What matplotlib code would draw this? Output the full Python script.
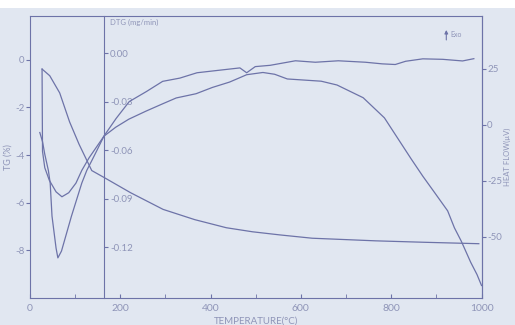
import matplotlib
matplotlib.use("Agg")
import matplotlib.pyplot as plt
from matplotlib.patches import Rectangle
from matplotlib.ticker import MultipleLocator

# -------------------------------------------------------
# Data
# -------------------------------------------------------

# TG curve, mass change (%)
temp_tg = [27, 44, 66, 88, 109, 137, 167, 223, 295, 365, 435, 493, 553, 625, 766, 873, 994]
tg      = [-0.39, -0.67, -1.39, -2.61, -3.55, -4.65, -4.97, -5.58, -6.28, -6.71, -7.05,
           -7.22, -7.35, -7.49, -7.60, -7.66, -7.72]

# DTG curve (mg/min)
temp_dtg = [22, 28, 33, 41, 45, 49, 58, 62, 70, 92, 115, 126, 137, 148, 164, 191, 220,
            258, 294, 332, 370, 414, 465, 480, 499, 532, 588, 632, 683, 743, 780, 809,
            832, 870, 914, 958, 983]
dtg      = [-0.049, -0.0546, -0.0624, -0.0725, -0.0803, -0.1006, -0.1204, -0.1264,
            -0.1222, -0.1007, -0.0802, -0.0724, -0.0664, -0.0603, -0.0512, -0.0403,
            -0.0299, -0.0237, -0.0174, -0.0154, -0.0121, -0.0107, -0.0091, -0.0121,
            -0.0083, -0.0075, -0.0047, -0.0056, -0.0047, -0.0056, -0.0066, -0.0070,
            -0.0050, -0.0035, -0.0038, -0.0048, -0.0034]

# Heat flow curve (uV)
temp_hf = [27, 27.5, 28, 33, 43, 58, 71, 86, 102, 115, 131, 164, 190, 219, 257, 293,
           324, 368, 404, 442, 464, 480, 516, 542, 570, 645, 680, 738, 785, 844, 870,
           896, 925, 940, 955, 976, 990, 1000]
hf      = [24.9, 5.4, -11.9, -19.2, -24.8, -30.0, -32.2, -30.4, -26.1, -20.4, -14.8,
           -5.1, -1.1, 2.5, 6.1, 9.3, 12.0, 13.9, 16.7, 19.1, 21.0, 22.4, 23.4, 22.6,
           20.5, 19.5, 17.8, 12.1, 3.1, -15.2, -23.0, -30.3, -38.5, -46.1, -52.0,
           -61.5, -67.0, -71.9]

x_ticks   = [0, 200, 400, 600, 800, 1000]
tg_ticks  = [0, -2, -4, -6, -8]
dtg_ticks = [0.00, -0.03, -0.06, -0.09, -0.12]
hf_ticks  = [25, 0, -25, -50]

# -------------------------------------------------------
# Style
# -------------------------------------------------------

PAPER = "#e1e7f1"
INK   = "#6d73a8"
TEXT  = "#8f95b8"
LW    = 0.9

plt.rcParams["font.family"] = ["Lato", "DejaVu Sans"]

fig = plt.figure(figsize=(5.15, 3.25), dpi=100, facecolor=PAPER)
# white photo margin at the top edge
fig.add_artist(Rectangle((0, 0.975), 1, 0.025, transform=fig.transFigure,
                         facecolor="white", edgecolor="none", zorder=0))

ax = fig.add_axes([0.058, 0.083, 0.877, 0.868])
ax.set_facecolor(PAPER)
ax.plot(temp_tg, tg, color=INK, lw=LW)
ax.set_xlim(0, 1000)
ax.set_ylim(-10.0, 1.84)
ax.set_xticks(x_ticks)
ax.xaxis.set_minor_locator(MultipleLocator(100))
ax.set_yticks(tg_ticks)
ax.set_yticklabels([str(v) for v in tg_ticks])
ax.tick_params(axis="x", direction="in", which="both", length=3, color=INK,
               labelcolor=TEXT, labelsize=7.5, pad=4)
ax.tick_params(axis="y", direction="out", length=3, color=INK,
               labelcolor=TEXT, labelsize=7, pad=1)
ax.set_xlabel("TEMPERATURE(°C)", color=TEXT, fontsize=7, labelpad=3)
ax.set_ylabel("TG (%)", color=TEXT, fontsize=6.5, labelpad=2)
for s in ax.spines.values():
    s.set_color(INK)
    s.set_linewidth(0.8)

# DTG axis sitting inside the plot
ax_dtg = ax.twinx()
ax_dtg.plot(temp_dtg, dtg, color=INK, lw=LW)
ax_dtg.set_ylim(-0.1512, 0.023)
ax_dtg.spines["right"].set_position(("data", 165))
ax_dtg.spines["right"].set_color(INK)
ax_dtg.spines["right"].set_linewidth(0.8)
for side in ("left", "top", "bottom"):
    ax_dtg.spines[side].set_visible(False)
ax_dtg.set_yticks(dtg_ticks)
ax_dtg.set_yticklabels([f"{v:.2f}" for v in dtg_ticks])
ax_dtg.tick_params(axis="y", direction="out", length=3, color=INK,
                   labelcolor=TEXT, labelsize=7, pad=1)
ax.text(178, 0.99, "DTG (mg/min)", transform=ax.get_xaxis_transform(),
        color=TEXT, fontsize=5.5, ha="left", va="top")

# Heat flow axis on the right
ax_hf = ax.twinx()
ax_hf.plot(temp_hf, hf, color=INK, lw=LW)
ax_hf.set_ylim(-77.5, 48.7)
for side in ("left", "top", "bottom"):
    ax_hf.spines[side].set_visible(False)
ax_hf.spines["right"].set_color(INK)
ax_hf.spines["right"].set_linewidth(0.8)
ax_hf.set_yticks(hf_ticks)
ax_hf.set_yticklabels([str(v) for v in hf_ticks])
ax_hf.tick_params(axis="y", direction="out", length=3, color=INK,
                  labelcolor=TEXT, labelsize=7, pad=1)
ax_hf.set_ylabel("HEAT FLOW(\u00b5V)", color=TEXT, fontsize=5.5, labelpad=1)

# Exo marker
ax.annotate("", xy=(0.922, 0.96), xytext=(0.922, 0.905), xycoords="axes fraction",
            arrowprops=dict(arrowstyle="-|>", color=INK, lw=0.8, mutation_scale=5))
ax.text(0.93, 0.935, "Exo", transform=ax.transAxes, color=TEXT, fontsize=5,
        ha="left", va="center")

fig.savefig("out.png", dpi=100, facecolor=PAPER)
